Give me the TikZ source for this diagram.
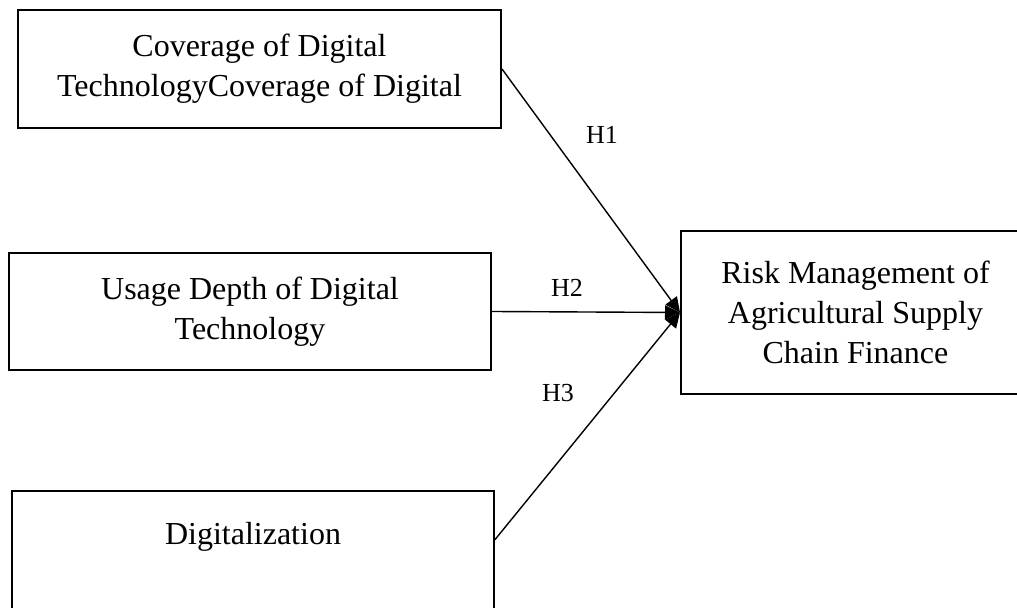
\documentclass[tikz,border=0pt]{standalone}
\usepackage{fontspec}
\setmainfont{Liberation Serif}
\usetikzlibrary{arrows.meta}
\begin{document}
\begin{tikzpicture}[x=0.5pt,y=-0.5pt,
	varbox/.style={draw,line width=1pt,align=center,inner sep=0pt,font=\fontsize{16}{20}\selectfont},
	hyp/.style={line width=0.7pt,-{Triangle[length=7.5pt,width=7pt]}},
	hlabel/.style={font=\fontsize{13}{15}\selectfont}]
	\useasboundingbox (0,0) rectangle (1017,608);
	\clip (0,0) rectangle (1017,608);
	\node[varbox,minimum width=241.5pt,minimum height=59pt] (cov) at (259.5,69) {Coverage of Digital\\TechnologyCoverage of Digital};
	\node[varbox,minimum width=241pt,minimum height=58.5pt] (use) at (250,311.5) {Usage Depth of Digital\\Technology};
	\node[varbox,minimum width=241pt,anchor=north,inner ysep=15.5pt,text depth=33pt] (dig) at (253,490) {Digitalization};
	\node[varbox,minimum width=174.5pt,minimum height=81.5pt] (risk) at (855.5,312.5) {Risk Management of\\Agricultural Supply\\Chain Finance};
	\draw[hyp] (cov.east) -- (risk.west);
	\draw[hyp] (use.east) -- (risk.west);
	\draw[hyp] (dig.mid east) -- (risk.west);
	\node[hlabel] (h1) at (602,135) {H1};
	\node[hlabel] (h2) at (567,288) {H2};
	\node[hlabel] (h3) at (558,393) {H3};
\end{tikzpicture}
\end{document}
